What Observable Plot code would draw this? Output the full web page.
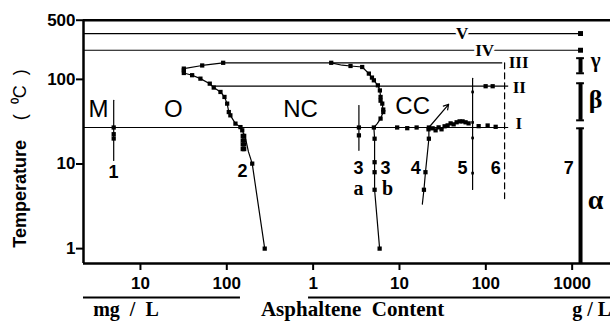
<!DOCTYPE html>
<html><head><meta charset="utf-8">
<script src="https://cdn.jsdelivr.net/npm/d3@7"></script>
<script src="https://cdn.jsdelivr.net/npm/@observablehq/plot@0.6"></script>
<style>
html,body{margin:0;padding:0;background:#fff;overflow:hidden}
#chart svg{display:block}
</style>
</head><body><div id="chart"></div>
<script>
// ---------- data (x: asphaltene content in g/L, y: temperature in °C) ----------
const xTicks = [0.01, 0.1, 1, 10, 100, 1000];
const xTickLabels = ["10", "100", "1", "10", "100", "1000"];
const yTicks = [1, 10, 100, 500];
const yTickLabels = ["1", "10", "100", "500"];
const xDomain = [0.00219, 2780];
const yDomain = [0.667, 510];
const yTop = 500;

// boundary O | NC (curve 2)
const curveO = [[0.0908,157],[0.0519,146],[0.0318,134],[0.0318,119],[0.0397,112],[0.0495,102],[0.0635,89],[0.0706,80],[0.0845,71],[0.094,62],[0.101,51.7],[0.1055,41.1],[0.110,37.6],[0.126,30],[0.144,27.3],[0.151,25],[0.165,20],[0.178,14],[0.197,10.1],[0.275,1.0]];
const curveOMarks = [[0.0908,157],[0.0519,146],[0.0318,134],[0.0318,128],[0.0318,119],[0.0397,112],[0.0495,102],[0.0635,89],[0.0706,80],[0.0845,71],[0.094,62],[0.101,51.7],[0.1055,41.1],[0.110,37.6],[0.126,30],[0.144,27.3],[0.151,25],[0.153,21.5],[0.159,21.5],[0.153,19],[0.159,19],[0.153,17],[0.159,17],[0.153,15],[0.159,15],[0.197,10.1],[0.275,1.0]];
// boundary NC | CC (curve 3, continuing as line 3b)
const curveNC = [[1.62,157],[2.17,147],[2.71,144],[3.70,140],[4.42,117],[5.05,97.5],[5.62,85],[5.93,74],[6.04,62],[6.32,51.7],[6.49,41.1],[6.04,34.4],[5.53,30],[5.05,27],[5.15,19.9],[5.15,10.5],[5.15,8.0],[5.15,4.96],[5.89,1.0]];
const curveNCMarks = [[1.62,157],[2.71,144],[3.70,140],[4.42,117],[4.8,105],[5.05,97.5],[5.62,85],[5.93,74],[6.04,62],[6.04,56],[6.32,51.7],[6.49,44],[6.49,41.1],[6.04,34.4],[5.05,27],[5.15,19.9],[5.15,10.5],[5.15,8.0],[5.15,4.96],[5.89,1.0]];
// line 3a
const line3a = [[3.39,49],[3.39,14.5]];
const line3aMarks = [[3.39,27],[3.39,21.8]];
// line 1
const line1 = [[0.0049,56.6],[0.0049,11.0]];
const line1Marks = [[0.0049,27],[0.0049,22.5],[0.0049,20]];
// line 4 and arrow
const line4 = [[18.4,3.36],[19.2,4.96],[20.0,8.0],[21.9,19.9],[21.9,27]];
const line4Marks = [[19.2,4.96],[20.0,8.0],[21.9,19.9],[21.9,27]];
const arrow4 = [{x1:21.9, y1:27, x2:37.1, y2:50.8}];
// CC cluster near line I
const clusterCC = [[21.7,25.7],[24.2,26.4],[26.2,25.0],[28.4,27.1],[30.7,25.7],[33.3,27.9],[36.1,28.6],[39.1,30.2],[42.4,29.4],[45.9,31.1],[49.7,31.9],[53.8,31.9],[58.3,31.1],[63.2,30.2]];
const lineIMarks = [[9.4,27],[12.3,26.5],[15.8,27],[82.6,28],[105,28.5],[130,27.5]];
const lineIIMarks = [[99.5,83],[120,83]];
// line 5 and dashed line 6
const line5 = [[70.3,103],[70.3,5.0]];
const line5Marks = [[70.3,71],[70.3,31],[70.3,20.3],[70.3,7.8]];
const line6 = [[165,157],[165,3.9]];
// line 7 (pure asphaltene) segments
const line7X = 1250;
const line7Segments = [{lo:0.667, hi:26.4, cap:false},{lo:32.8, hi:90, cap:true},{lo:118, hi:178, cap:true}];
const line7Marks = [[1250,221],[1250,348]];
// horizontal levels I..V
const levelNames = ["I","II","III","IV","V"];
const levelT = [27, 83, 157, 221, 348];
const levelX1 = [0.00219, 0.068, 0.0908, 0.00219, 0.00219];
const levelX2 = [184, 184, 157, 1250, 1250];
// labels
const regionLabels = [{t:"M",x:0.00326,y:43.7},{t:"O",x:0.0241,y:43.7},{t:"NC",x:0.714,y:43.7},{t:"CC",x:14.2,y:48}];
const numberLabels = [{t:"1",x:0.00487,y:7.96},{t:"2",x:0.152,y:8.17},{t:"3",x:3.36,y:8.87},{t:"3",x:6.90,y:8.87},{t:"4",x:15.4,y:8.87},{t:"5",x:53.8,y:8.87},{t:"6",x:130,y:8.87},{t:"7",x:912,y:8.87}];
const letterLabels = [{t:"a",x:3.36,y:5.14},{t:"b",x:7.28,y:5.14}];
const romanInline = [{t:"V",x:53.1,y:348},{t:"IV",x:96.8,y:221}];
const romanEnd = [{t:"III",x:184,y:157},{t:"II",x:205,y:79.6},{t:"I",x:221,y:30}];
const greekLabels = [{t:"γ",x:1870,y:166,s:21},{t:"β",x:1870,y:58,s:26},{t:"α",x:1870,y:3.76,s:28}];

const sans = "'Liberation Sans', Arial, sans-serif";
const serif = "'Liberation Serif', 'Times New Roman', serif";

const levels = levelNames.map((n,i) => ({n, T: levelT[i], x1: levelX1[i], x2: levelX2[i]}));
const caps = [];
line7Segments.forEach(s => { caps.push({y: s.hi}); if (s.cap) caps.push({y: s.lo}); });

const sq = {x: d => d[0], y: d => d[1], symbol: "square", r: 2.4, fill: "black"};
const ln = {x: d => d[0], y: d => d[1], stroke: "black", strokeWidth: 1.2};

const chart = Plot.plot({
  width: 610, height: 322,
  marginLeft: 83, marginRight: 0, marginTop: 19, marginBottom: 59,
  x: {type: "log", domain: xDomain},
  y: {type: "log", domain: yDomain},
  style: {fontFamily: sans, background: "white", overflow: "visible", color: "black"},
  marks: [
    Plot.axisX({ticks: xTicks, tickSize: 7, strokeWidth: 2, text: null, label: null}),
    Plot.axisY({ticks: yTicks, tickSize: 7, strokeWidth: 2, text: null, label: null}),
    Plot.text(xTicks, {x: d => d, y: yDomain[0], text: (d, i) => xTickLabels[i], dy: 20, fontSize: 17, fontWeight: "bold", fontFamily: sans, fill: "black"}),
    Plot.text(yTicks, {x: xDomain[0], y: d => d, text: (d, i) => yTickLabels[i], dx: -8, textAnchor: "end", fontSize: 17, fontWeight: "bold", fontFamily: sans, fill: "black"}),
    // frame lines
    Plot.ruleX([xDomain[0]], {y1: yDomain[0], y2: yTop, strokeWidth: 2.5}),
    Plot.ruleY([yDomain[0]], {strokeWidth: 2.5}),
    Plot.ruleY([yTop], {x1: xDomain[0], x2: xDomain[1], strokeWidth: 2.5}),
    // horizontal levels
    Plot.ruleY(levels, {y: "T", x1: "x1", x2: "x2", strokeWidth: 1.2}),
    // curves
    Plot.line(curveO, ln),
    Plot.dot(curveOMarks, sq),
    Plot.line(curveNC, ln),
    Plot.dot(curveNCMarks, sq),
    Plot.line(line3a, ln),
    Plot.dot(line3aMarks, sq),
    Plot.line(line1, ln),
    Plot.dot(line1Marks, sq),
    Plot.line(line4, ln),
    Plot.dot(line4Marks, sq),
    Plot.arrow(arrow4, {x1: "x1", y1: "y1", x2: "x2", y2: "y2", headLength: 7, strokeWidth: 1.2}),
    Plot.line(clusterCC, ln),
    Plot.dot(clusterCC, sq),
    Plot.dot(lineIMarks, sq),
    Plot.dot(lineIIMarks, sq),
    Plot.line(line5, ln),
    Plot.dot(line5Marks, {...sq, r: 1.5}),
    Plot.line(line6, {...ln, strokeDasharray: "6,4"}),
    // line 7
    Plot.ruleX(line7Segments, {x: line7X, y1: "lo", y2: "hi", strokeWidth: 4}),
    Plot.ruleY(caps, {y: "y", x1: line7X / 1.11, x2: line7X * 1.11, strokeWidth: 2}),
    Plot.dot(line7Marks, {...sq, r: 2.8}),
    // roman numerals
    Plot.text(romanInline, {x: "x", y: "y", text: "t", fontFamily: serif, fontWeight: "bold", fontSize: 17, stroke: "white", strokeWidth: 6, fill: "black"}),
    Plot.text(romanEnd, {x: "x", y: "y", text: "t", textAnchor: "start", fontFamily: serif, fontWeight: "bold", fontSize: 17, fill: "black"}),
    // greek
    Plot.text(greekLabels, {x: "x", y: "y", text: "t", fontFamily: serif, fontWeight: "bold", fontSize: d => d.s, fill: "black"}),
    // region labels
    Plot.text(regionLabels, {x: "x", y: "y", text: "t", fontFamily: sans, fontSize: 24, fill: "black"}),
    // numbers
    Plot.text(numberLabels, {x: "x", y: "y", text: "t", fontFamily: sans, fontWeight: "bold", fontSize: 18, fill: "black"}),
    Plot.text(letterLabels, {x: "x", y: "y", text: "t", fontFamily: serif, fontWeight: "bold", fontSize: 20, fill: "black"}),
    // bottom unit lines and labels
    Plot.ruleY([0.264], {x1: xDomain[0], x2: 0.144, strokeWidth: 2}),
    Plot.ruleY([0.264], {x1: 0.885, x2: xDomain[1], strokeWidth: 2}),
    Plot.text(["mg\u00a0\u00a0/\u00a0\u00a0L"], {x: 0.0068, y: 0.159, text: d => d, lineAnchor: "bottom", fontFamily: serif, fontWeight: "bold", fontSize: 20, fill: "black"}),
    Plot.text(["Asphaltene\u00a0\u00a0Content"], {x: 2.86, y: 0.159, text: d => d, lineAnchor: "bottom", fontFamily: serif, fontWeight: "bold", fontSize: 21, fill: "black"}),
    Plot.text(["g / L"], {x: 1000, y: 0.159, text: d => d, lineAnchor: "bottom", textAnchor: "start", fontFamily: serif, fontWeight: "bold", fontSize: 20, fill: "black"}),
    // y title
    Plot.text(["Temperature"], {x: 0.000407, y: 4.43, text: d => d, rotate: -90, fontFamily: sans, fontWeight: "bold", fontSize: 18, fill: "black"}),
    Plot.text(["(\u00a0\u00a0\u2070C\u00a0\u00a0)"], {x: 0.000407, y: 65.7, text: d => d, rotate: -90, fontFamily: sans, fontSize: 18, fill: "black"})
  ]
});
document.getElementById("chart").appendChild(chart);
</script>
</body></html>
